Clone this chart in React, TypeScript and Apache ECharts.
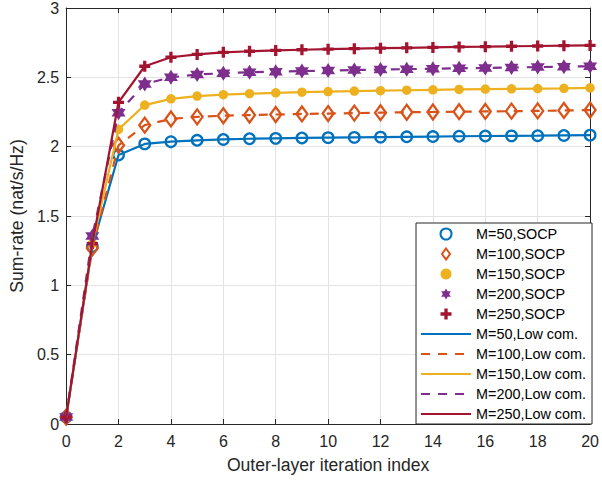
import React, { useEffect, useRef } from "react";
import * as echarts from "echarts";

const iterations = [0, 1, 2, 3, 4, 5, 6, 7, 8, 9, 10, 11, 12, 13, 14, 15, 16, 17, 18, 19, 20];

const m50 = [0.05, 1.28, 1.94, 2.02, 2.036, 2.046, 2.052, 2.057, 2.06, 2.063, 2.065, 2.067, 2.069, 2.071, 2.073, 2.075, 2.077, 2.078, 2.079, 2.081, 2.083];
const m100 = [0.05, 1.27, 2.01, 2.155, 2.2, 2.215, 2.223, 2.228, 2.232, 2.236, 2.239, 2.242, 2.245, 2.248, 2.25, 2.252, 2.254, 2.256, 2.258, 2.261, 2.264];
const m150 = [0.05, 1.3, 2.125, 2.3, 2.345, 2.365, 2.375, 2.382, 2.388, 2.393, 2.397, 2.401, 2.404, 2.407, 2.41, 2.413, 2.415, 2.417, 2.419, 2.421, 2.424];
const m200 = [0.05, 1.355, 2.245, 2.452, 2.5, 2.52, 2.53, 2.536, 2.541, 2.545, 2.549, 2.553, 2.556, 2.559, 2.562, 2.565, 2.568, 2.571, 2.574, 2.577, 2.58];
const m250 = [0.05, 1.3, 2.32, 2.58, 2.645, 2.665, 2.68, 2.688, 2.694, 2.699, 2.703, 2.707, 2.71, 2.713, 2.716, 2.719, 2.721, 2.724, 2.726, 2.728, 2.73];

const socpNames = ["M=50,SOCP", "M=100,SOCP", "M=150,SOCP", "M=200,SOCP", "M=250,SOCP"];
const lowNames = ["M=50,Low com.", "M=100,Low com.", "M=150,Low com.", "M=200,Low com.", "M=250,Low com."];
const colors = ["#0072BD", "#D95319", "#EDB120", "#7E2F8E", "#A2142F"];
const allData = [m50, m100, m150, m200, m250];

const HEXAGRAM = "path://M50,0L64.4,25L93.3,25L78.9,50L93.3,75L64.4,75L50,100L35.6,75L6.7,75L21.1,50L6.7,25L35.6,25Z";
const PLUS = "path://M35,0H65V35H100V65H65V100H35V65H0V35H35Z";
const DIAMOND = "path://M11,0L22,15L11,30L0,15Z";

const toPairs = (arr: number[]) => iterations.map((x, i) => [x, arr[i]]);

export default function App() {
  const ref = useRef<HTMLDivElement>(null);
  useEffect(() => {
    if (!ref.current) return;
    const chart = echarts.init(ref.current, null, { renderer: "svg" });
    const font = "Liberation Sans, Arial, Helvetica, sans-serif";
    const axisColor = "#262626";

    const markerDefs = [
      { symbol: "circle", symbolSize: 10.5, itemStyle: { color: "rgba(255,255,255,0)", borderColor: colors[0], borderWidth: 2.3, opacity: 1 } },
      { symbol: DIAMOND, symbolSize: [11, 15], itemStyle: { color: "rgba(255,255,255,0)", borderColor: colors[1], borderWidth: 2.3, opacity: 1 } },
      { symbol: "circle", symbolSize: 9.5, itemStyle: { color: colors[2], opacity: 1 } },
      { symbol: HEXAGRAM, symbolSize: [14, 15], itemStyle: { color: colors[3], opacity: 1 } },
      { symbol: PLUS, symbolSize: 11, itemStyle: { color: colors[4], opacity: 1 } },
    ];

    const scatterSeries = socpNames.map((name, k) => ({
      name,
      type: "scatter",
      xAxisIndex: 0,
      yAxisIndex: 0,
      data: toPairs(allData[k]),
      symbol: markerDefs[k].symbol,
      symbolSize: markerDefs[k].symbolSize,
      itemStyle: markerDefs[k].itemStyle,
      z: 2,
    }));

    const lineSeries = lowNames.map((name, k) => ({
      name,
      type: "line",
      xAxisIndex: 0,
      yAxisIndex: 0,
      data: toPairs(allData[k]),
      symbol: "none",
      showSymbol: false,
      lineStyle: { color: colors[k], width: 2.2, type: k === 1 || k === 3 ? [9, 8] : "solid" },
      itemStyle: { color: colors[k] },
      z: 3,
    }));

    chart.setOption({
      animation: false,
      backgroundColor: "#fff",
      grid: { left: 60, right: 10, top: 5, bottom: 60, containLabel: false },
      legend: {
        orient: "vertical",
        right: 10,
        bottom: 60,
        itemWidth: 50,
        itemHeight: 11,
        itemGap: 6,
        padding: [4, 6, 3, 4],
        backgroundColor: "#fff",
        borderColor: axisColor,
        borderWidth: 1,
        borderRadius: 0,
        textStyle: { fontFamily: font, fontSize: 14.4, color: "#000", lineHeight: 14 },
        data: [
          ...socpNames.map((name) => ({ name })),
          ...lowNames.map((name) => ({ name, itemStyle: { opacity: 0 } })),
        ],
      },
      xAxis: [
        {
          type: "value",
          min: 0,
          max: 20,
          interval: 2,
          name: "Outer-layer iteration index",
          nameLocation: "middle",
          nameGap: 32,
          nameTextStyle: { fontFamily: font, fontSize: 17.6, color: axisColor },
          axisLine: { show: true, lineStyle: { color: axisColor, width: 1 } },
          axisTick: { show: true, inside: true, length: 5, lineStyle: { color: axisColor } },
          axisLabel: { fontFamily: font, fontSize: 16, color: axisColor, margin: 9 },
          splitLine: { show: true, lineStyle: { color: "#e3e3e3", width: 1 } },
        },
        {
          type: "value",
          position: "top",
          min: 0,
          max: 20,
          interval: 2,
          axisLine: { show: true, onZero: false, lineStyle: { color: axisColor, width: 1 } },
          axisTick: { show: true, inside: true, length: 5, lineStyle: { color: axisColor } },
          axisLabel: { show: false },
          splitLine: { show: false },
        },
      ],
      yAxis: [
        {
          type: "value",
          min: 0,
          max: 3,
          interval: 0.5,
          name: "Sum-rate (nat/s/Hz)",
          nameLocation: "middle",
          nameGap: 37,
          nameTextStyle: { fontFamily: font, fontSize: 17.6, color: axisColor },
          axisLine: { show: true, lineStyle: { color: axisColor, width: 1 } },
          axisTick: { show: true, inside: true, length: 5, lineStyle: { color: axisColor } },
          axisLabel: { fontFamily: font, fontSize: 16, color: axisColor, margin: 7 },
          splitLine: { show: true, lineStyle: { color: "#e3e3e3", width: 1 } },
        },
        {
          type: "value",
          position: "right",
          min: 0,
          max: 3,
          interval: 0.5,
          axisLine: { show: true, onZero: false, lineStyle: { color: axisColor, width: 1 } },
          axisTick: { show: true, inside: true, length: 5, lineStyle: { color: axisColor } },
          axisLabel: { show: false },
          splitLine: { show: false },
        },
      ],
      series: [...scatterSeries, ...lineSeries],
    });
    return () => chart.dispose();
  }, []);
  return (
    <div
      ref={ref}
      style={{ position: "fixed", left: 0, top: 0, width: 602, height: 484, background: "#fff" }}
    />
  );
}
